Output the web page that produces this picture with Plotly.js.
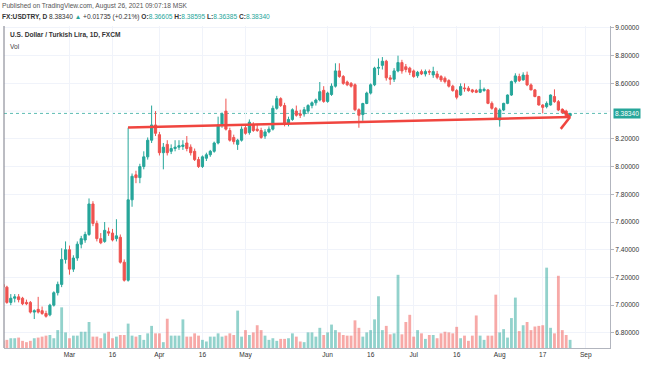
<!DOCTYPE html>
<html><head><meta charset="utf-8">
<script src="https://cdn.plot.ly/plotly-3.0.1.min.js"></script>
<style>html,body{margin:0;padding:0;background:#fff}#c{width:654px;height:366px}</style>
</head><body><div id="c"></div>
<script>
const dates = [
"2021-02-04","2021-02-05","2021-02-08","2021-02-09","2021-02-10","2021-02-11","2021-02-12","2021-02-15","2021-02-16","2021-02-17","2021-02-18","2021-02-19","2021-02-22","2021-02-23","2021-02-24","2021-02-25","2021-02-26",
"2021-03-01","2021-03-02","2021-03-03","2021-03-04","2021-03-05","2021-03-08","2021-03-09","2021-03-10","2021-03-11","2021-03-12","2021-03-15","2021-03-16","2021-03-17","2021-03-18","2021-03-19","2021-03-22","2021-03-23","2021-03-24","2021-03-25","2021-03-26","2021-03-29","2021-03-30","2021-03-31",
"2021-04-01","2021-04-02","2021-04-05","2021-04-06","2021-04-07","2021-04-08","2021-04-09","2021-04-12","2021-04-13","2021-04-14","2021-04-15","2021-04-16","2021-04-19","2021-04-20","2021-04-21","2021-04-22","2021-04-23","2021-04-26","2021-04-27","2021-04-28","2021-04-29","2021-04-30",
"2021-05-03","2021-05-04","2021-05-05","2021-05-06","2021-05-07","2021-05-10","2021-05-11","2021-05-12","2021-05-13","2021-05-14","2021-05-17","2021-05-18","2021-05-19","2021-05-20","2021-05-21","2021-05-24","2021-05-25","2021-05-26","2021-05-27","2021-05-28","2021-05-31",
"2021-06-01","2021-06-02","2021-06-03","2021-06-04","2021-06-07","2021-06-08","2021-06-09","2021-06-10","2021-06-11","2021-06-14","2021-06-15","2021-06-16","2021-06-17","2021-06-18","2021-06-21","2021-06-22","2021-06-23","2021-06-24","2021-06-25","2021-06-28","2021-06-29","2021-06-30",
"2021-07-01","2021-07-02","2021-07-05","2021-07-06","2021-07-07","2021-07-08","2021-07-09","2021-07-12","2021-07-13","2021-07-14","2021-07-15","2021-07-16","2021-07-19","2021-07-20","2021-07-21","2021-07-22","2021-07-23","2021-07-26","2021-07-27","2021-07-28","2021-07-29","2021-07-30",
"2021-08-02","2021-08-03","2021-08-04","2021-08-05","2021-08-06","2021-08-09","2021-08-10","2021-08-11","2021-08-12","2021-08-13","2021-08-16","2021-08-17","2021-08-18","2021-08-19","2021-08-20","2021-08-23","2021-08-24","2021-08-25","2021-08-26"];
const futureDates = ["2021-08-27","2021-08-30","2021-08-31","2021-09-01","2021-09-02","2021-09-03","2021-09-06","2021-09-07","2021-09-08","2021-09-09"];

const open = [7.15,7.13,7.02,7.05,7.06,7.05,7.02,7.02,6.95,6.97,6.96,6.94,6.93,7.00,7.09,7.15,7.33,
7.40,7.26,7.34,7.44,7.47,7.51,7.73,7.59,7.48,7.46,7.53,7.52,7.48,7.49,7.31,7.18,7.76,7.94,7.92,8.00,8.07,8.19,8.30,
8.23,8.10,8.16,8.11,8.13,8.14,8.145,8.17,8.14,8.11,8.05,8.00,8.06,8.085,8.11,8.17,8.30,8.40,8.26,8.21,8.16,8.19,
8.28,8.245,8.30,8.27,8.26,8.22,8.25,8.27,8.42,8.49,8.44,8.31,8.34,8.40,8.38,8.38,8.40,8.44,8.46,8.48,8.55,
8.47,8.52,8.58,8.69,8.65,8.61,8.60,8.59,8.41,8.375,8.455,8.53,8.59,8.71,8.73,8.76,8.64,8.63,8.69,8.75,8.72,8.71,
8.69,8.655,8.685,8.668,8.685,8.661,8.668,8.649,8.637,8.62,8.58,8.548,8.516,8.567,8.565,8.553,8.548,8.536,8.548,8.553,8.456,8.42,
8.336,8.408,8.456,8.516,8.613,8.649,8.625,8.66,8.589,8.553,8.505,8.444,8.432,8.444,8.505,8.468,8.413,8.40,8.36605];
const high = [7.17,7.14,7.08,7.08,7.08,7.06,7.04,7.03,6.97,7.06,6.99,6.96,7.01,7.10,7.17,7.41,7.46,
7.43,7.36,7.46,7.50,7.53,7.77,7.75,7.61,7.52,7.60,7.56,7.55,7.62,7.51,7.33,8.28,7.95,7.97,8.02,8.11,8.21,8.44,8.40,
8.25,8.17,8.19,8.16,8.19,8.19,8.19,8.22,8.16,8.13,8.07,8.08,8.10,8.12,8.18,8.36,8.39,8.49,8.28,8.23,8.20,8.29,
8.30,8.34,8.32,8.30,8.28,8.27,8.29,8.44,8.51,8.50,8.46,8.36,8.42,8.44,8.41,8.43,8.45,8.47,8.49,8.61,8.58,
8.54,8.60,8.745,8.745,8.66,8.62,8.61,8.60,8.42,8.46,8.54,8.60,8.72,8.78,8.79,8.77,8.66,8.71,8.80,8.77,8.74,8.72,
8.70,8.69,8.70,8.70,8.70,8.72,8.69,8.66,8.65,8.63,8.59,8.56,8.60,8.60,8.58,8.56,8.56,8.625,8.57,8.56,8.47,8.43,
8.42,8.46,8.52,8.62,8.673,8.67,8.68,8.685,8.60,8.56,8.51,8.45,8.47,8.52,8.557,8.48,8.42,8.41,8.38595];
const low = [7.11,7.01,7.00,7.02,7.02,7.00,7.00,6.94,6.90,6.94,6.93,6.91,6.92,6.99,7.07,7.13,7.30,
7.22,7.24,7.32,7.41,7.45,7.50,7.57,7.46,7.44,7.45,7.50,7.46,7.46,7.30,7.17,7.17,7.71,7.88,7.88,7.98,8.05,8.17,8.22,
8.08,7.98,8.08,8.09,8.11,8.12,8.12,8.11,8.08,8.04,7.99,7.99,8.04,8.07,8.10,8.16,8.28,8.26,8.18,8.16,8.12,8.18,
8.23,8.23,8.25,8.25,8.20,8.20,8.24,8.26,8.41,8.43,8.29,8.29,8.33,8.36,8.35,8.36,8.38,8.42,8.44,8.47,8.46,
8.46,8.51,8.57,8.64,8.59,8.58,8.57,8.40,8.28,8.33,8.45,8.52,8.58,8.66,8.70,8.62,8.59,8.61,8.68,8.67,8.68,8.66,
8.64,8.64,8.66,8.65,8.66,8.64,8.63,8.61,8.60,8.57,8.54,8.485,8.51,8.54,8.54,8.53,8.53,8.53,8.54,8.45,8.41,8.336,
8.288,8.40,8.45,8.51,8.60,8.61,8.62,8.58,8.55,8.50,8.44,8.384,8.42,8.44,8.46,8.40,8.38,8.36,8.36385];
const close = [7.13,7.02,7.05,7.06,7.04,7.01,7.01,6.95,6.96,6.95,6.94,6.92,7.00,7.09,7.15,7.33,7.40,
7.26,7.34,7.44,7.48,7.51,7.73,7.59,7.48,7.45,7.54,7.52,7.47,7.50,7.31,7.18,7.76,7.93,7.92,8.00,8.07,8.19,8.30,8.24,
8.10,8.14,8.10,8.13,8.14,8.15,8.155,8.13,8.10,8.05,8.00,8.07,8.085,8.11,8.17,8.30,8.38,8.27,8.19,8.18,8.19,8.27,
8.24,8.32,8.26,8.26,8.21,8.25,8.27,8.42,8.49,8.44,8.31,8.34,8.41,8.37,8.37,8.41,8.44,8.46,8.48,8.54,8.47,
8.53,8.58,8.69,8.65,8.60,8.59,8.58,8.41,8.37,8.455,8.53,8.59,8.71,8.715,8.76,8.64,8.63,8.69,8.75,8.69,8.70,8.68,
8.65,8.68,8.668,8.685,8.682,8.685,8.644,8.625,8.613,8.58,8.548,8.50,8.577,8.562,8.548,8.54,8.536,8.557,8.557,8.456,8.42,8.35,
8.408,8.456,8.516,8.613,8.654,8.62,8.66,8.589,8.553,8.505,8.444,8.427,8.456,8.516,8.468,8.408,8.389,8.366,8.3834];
const volume = [22,25,30,30,32,22,18,22,30,32,35,38,40,30,55,125,48,
30,38,38,50,50,80,35,35,30,45,50,30,35,40,40,75,38,35,40,25,45,68,45,
45,18,90,38,38,38,88,35,35,45,38,25,20,35,35,45,35,38,45,40,115,35,
55,40,48,70,55,38,25,30,22,28,28,30,45,35,20,18,48,48,35,62,40,
48,72,55,48,40,38,38,85,62,35,48,55,88,159,55,68,42,45,225,42,80,102,
35,55,45,28,40,40,30,45,50,48,45,65,30,38,22,38,100,38,25,38,38,164,
48,58,32,92,155,52,70,80,55,66,68,70,247,62,45,222,55,40,25];

const tickDates = ["2021-03-01","2021-03-16","2021-04-01","2021-04-16","2021-05-03","2021-06-01","2021-06-16","2021-07-01","2021-07-16","2021-08-02","2021-08-17","2021-09-01"];
const tickLabels = ["Mar","16","Apr","16","May","Jun","16","Jul","16","Aug","17","Sep"];
const priceTicks = [6.8,7.0,7.2,7.4,7.6,7.8,8.0,8.2,8.6,8.8,9.0];
const hiddenGridPrice = 8.4;
const lastPrice = 8.3834;
// trend drawing (category index, price)
const trendStart = [31.97, 8.282], trendEnd = [145.0, 8.357];
const arrowUp = [142.9, 8.41], arrowDown = [142.6, 8.272];

const UP = '#26a69a', DN = '#ef5350';
const volColors = close.map((c,i)=> c>=open[i] ? 'rgba(38,166,154,0.5)' : 'rgba(239,83,80,0.5)');
const allCats = dates.concat(futureDates);

const traces = [
 {type:'bar', x:dates, y:volume, yaxis:'y2', marker:{color:volColors, line:{width:0}}, hoverinfo:'skip', width:0.72},
 {type:'candlestick', x:dates, open:open, high:high, low:low, close:close,
  increasing:{line:{color:UP, width:1}, fillcolor:UP},
  decreasing:{line:{color:DN, width:1}, fillcolor:DN}, whiskerwidth:0, hoverinfo:'skip'}
];
const trendColor = '#f0453f';
const shapes = [
 {type:'line', xref:'paper', yref:'y', x0:0, x1:1, y0:hiddenGridPrice, y1:hiddenGridPrice, line:{color:'#f0f3fa', width:1}, layer:'below'},
 {type:'line', xref:'paper', yref:'y', x0:0, x1:1, y0:lastPrice, y1:lastPrice, line:{color:'rgba(38,166,154,0.75)', width:1, dash:'dot'}, layer:'below'},
 {type:'line', xref:'x', yref:'y', x0:trendStart[0], y0:trendStart[1], x1:trendEnd[0], y1:trendEnd[1], line:{color:trendColor, width:2.5}},
 {type:'line', xref:'x', yref:'y', x0:arrowUp[0], y0:arrowUp[1], x1:trendEnd[0], y1:trendEnd[1], line:{color:trendColor, width:2.5}},
 {type:'line', xref:'x', yref:'y', x0:arrowDown[0], y0:arrowDown[1], x1:trendEnd[0], y1:trendEnd[1], line:{color:trendColor, width:2.5}},
 {type:'line', xref:'paper', yref:'paper', x0:0, x1:0, y0:0, y1:1, line:{color:'#787b86', width:1}}
];

const F = 'Liberation Sans, Arial, sans-serif';
const annotations = [
 {xref:'paper', yref:'paper', x:0, y:1, xanchor:'left', yanchor:'middle', yshift:20, xshift:-4, showarrow:false,
  text:'Published on TradingView.com, August 26, 2021 09:07:18 MSK', font:{family:F, size:6.6, color:'#555'}},
 {xref:'paper', yref:'paper', x:0, y:1, xanchor:'left', yanchor:'middle', yshift:9, xshift:-4, showarrow:false,
  text:'<b>FX:USDTRY, D</b> 8.38340 <span style="color:#26a69a">▲</span> +0.01735 (+0.21%) <b>O:</b><span style="color:#26a69a">8.36605</span> <b>H:</b><span style="color:#26a69a">8.38595</span> <b>L:</b><span style="color:#26a69a">8.36385</span> <b>C:</b><span style="color:#26a69a">8.38340</span>',
  font:{family:F, size:6.6, color:'#333'}},
 {xref:'paper', yref:'paper', x:0, y:1, xanchor:'left', yanchor:'middle', yshift:-9, xshift:4, showarrow:false,
  text:'<b>U.S. Dollar / Turkish Lira, 1D, FXCM</b>', font:{family:F, size:6.6, color:'#333'}},
 {xref:'paper', yref:'paper', x:0, y:1, xanchor:'left', yanchor:'middle', yshift:-20, xshift:4, showarrow:false,
  text:'Vol', font:{family:F, size:6.6, color:'#444'}},
 {xref:'paper', yref:'y', x:1, y:lastPrice, xanchor:'left', yanchor:'middle', xshift:3, showarrow:false,
  text:'8.38340', bgcolor:UP, font:{family:F, size:6.6, color:'#fff'}, borderpad:1}
];

const layout = {
 width:654, height:366, margin:{l:4, r:44, t:26, b:18},
 paper_bgcolor:'#fff', plot_bgcolor:'#fff', showlegend:false, dragmode:false, boxgap:0.2,
 xaxis:{type:'category', categoryorder:'array', categoryarray:allCats, range:[0.26,155.2],
   tickvals:tickDates, ticktext:tickLabels, tickangle:0, showgrid:true, gridcolor:'#f0f3fa', gridwidth:1,
   ticks:'', tickfont:{family:F, size:6.6, color:'#333'}, showline:true, linecolor:'#b2b5be', mirror:false,
   rangeslider:{visible:false}, zeroline:false, fixedrange:true},
 yaxis:{side:'right', range:[6.691, 9.014], tickvals:priceTicks, tickformat:'.5f', showgrid:true, gridcolor:'#f0f3fa',
   ticks:'outside', ticklen:3, tickcolor:'#b2b5be', tickfont:{family:F, size:6.6, color:'#333'}, showline:true, linecolor:'#b2b5be', zeroline:false, fixedrange:true},
 yaxis2:{overlaying:'y', range:[0, 990], visible:false, fixedrange:true},
 shapes:shapes, annotations:annotations, bargap:0.25
};
Plotly.newPlot('c', traces, layout, {staticPlot:true, displayModeBar:false});
</script></body></html>
